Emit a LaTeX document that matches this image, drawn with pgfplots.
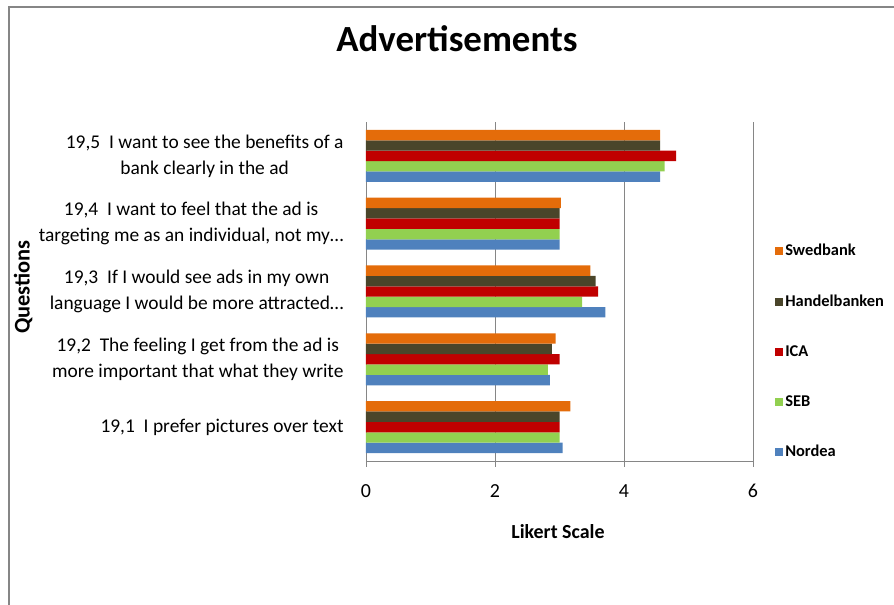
\documentclass[border=0pt]{standalone}
\usepackage{pgfplots}
\pgfplotsset{compat=1.18}
\usepackage{fontspec}
\setmainfont{Carlito}
\definecolor{cSwed}{HTML}{E46C0A}
\definecolor{cHand}{HTML}{4A452A}
\definecolor{cICA}{HTML}{C00000}
\definecolor{cSEB}{HTML}{92D050}
\definecolor{cNord}{HTML}{4F81BD}
\definecolor{lgray}{HTML}{868686}
\begin{document}
\begin{tikzpicture}
\useasboundingbox (0,0) rectangle (894bp,605bp);
\draw[lgray, line width=2bp] (8.5bp,0) -- (8.5bp,597.5bp) -- (894bp,597.5bp);
\begin{axis}[
  at={(366bp,144bp)}, anchor=south west,
  width=387bp, height=339bp, scale only axis,
  xmin=0, xmax=6, ymin=0.5, ymax=5.5,
  xbar, bar width=10.4bp,
  axis lines*=left,
  axis line style={lgray, line width=0.9bp},
  xtick={0,2,4,6},
  xmajorgrids, major grid style={lgray, line width=0.9bp},
  tick align=outside,
  x tick style={lgray, line width=0.9bp}, major tick length=6bp,
  y tick style={draw=none},
  ytick={1,2,3,4,5},
  yticklabels={
    {19,1\ \ I prefer\ pictures over text},
    {19,2\ \ The feeling I get from the ad is\\more important that what they write},
    {19,3\ \ If I would see ads in my own\\language I would be more attracted\ldots},
    {19,4\ \ I want to feel that the ad is\\targeting me as an individual, not my\ldots},
    {19,5\ \ I want to see the benefits of a\\bank clearly in the ad}},
  yticklabel style={align=center, font=\fontsize{19.5}{26}\selectfont, xshift=-13bp},
  xticklabel style={font=\fontsize{20}{24}\selectfont, yshift=-14bp},
  /pgf/number format/assume math mode=true,
  title={Advertisements},
  title style={font=\fontsize{37}{42}\selectfont\bfseries, at={(axis description cs:0.235,1.227)}, anchor=center},
  xlabel={Likert Scale},
  xlabel style={font=\fontsize{20}{24}\selectfont\bfseries, at={(axis description cs:0.496,-0.209)}, anchor=center},
  ylabel={Questions},
  ylabel style={font=\fontsize{22.5}{26}\selectfont\bfseries, at={(axis description cs:-0.886,0.513)}, anchor=center, rotate=0},
  reverse legend,
  legend image code/.code={\fill[#1] (0bp,-4bp) rectangle (8bp,4bp);},
  legend style={at={(axis description cs:1.057,0.6445)}, anchor=north west, draw=none, fill=none,
    font=\fontsize{16.5}{20}\selectfont\bfseries, row sep=33.3bp, inner sep=0pt,
    nodes={inner sep=2bp, text height=11bp, text depth=2bp}},
  legend cell align=left,
]
\addplot[fill=cNord, draw=none, bar shift=-20.8bp] coordinates {(3.05,1) (2.85,2) (3.71,3) (3.00,4) (4.56,5)};
\addlegendentry{Nordea}
\addplot[fill=cSEB, draw=none, bar shift=-10.4bp] coordinates {(3.00,1) (2.82,2) (3.35,3) (3.00,4) (4.63,5)};
\addlegendentry{SEB}
\addplot[fill=cICA, draw=none, bar shift=0bp] coordinates {(3.00,1) (3.00,2) (3.60,3) (3.00,4) (4.81,5)};
\addlegendentry{ICA}
\addplot[fill=cHand, draw=none, bar shift=10.4bp] coordinates {(3.00,1) (2.88,2) (3.56,3) (3.00,4) (4.56,5)};
\addlegendentry{Handelbanken}
\addplot[fill=cSwed, draw=none, bar shift=20.8bp] coordinates {(3.17,1) (2.94,2) (3.48,3) (3.02,4) (4.56,5)};
\addlegendentry{Swedbank}
\end{axis}
\end{tikzpicture}
\end{document}
